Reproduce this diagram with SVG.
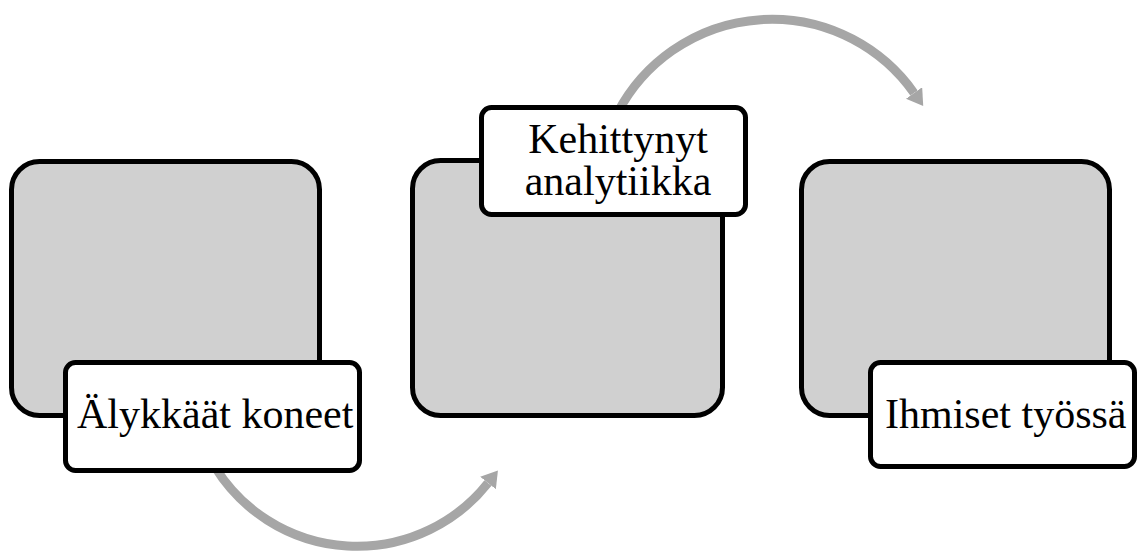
<svg xmlns="http://www.w3.org/2000/svg" width="1137" height="553" viewBox="0 0 1137 553">
  <style>
    .card { fill: #d0d0d0; stroke: #000; stroke-width: 5; }
    .label { fill: #fff; stroke: #000; stroke-width: 5; }
    .txt { font-family: "Liberation Serif", "Times New Roman", serif; font-size: 42px; fill: #000; }
    .flow { fill: none; stroke: #a6a6a6; stroke-width: 9; }
  </style>
  <defs>
    <marker id="head" viewBox="0 0 16 20" refX="0" refY="10" markerWidth="16" markerHeight="20" markerUnits="userSpaceOnUse" orient="auto">
      <path d="M0,0 L16,10 L0,20 Z" fill="#a6a6a6"/>
    </marker>
  </defs>

  <rect width="1137" height="553" fill="#fff"/>

  <!-- curved arrows between the steps -->
  <g id="connectors">
    <path class="flow" d="M215,467 A167,167 0 0 0 488,483" marker-end="url(#head)"/>
    <path class="flow" d="M618,112 A174,174 0 0 1 914,93" marker-end="url(#head)"/>
  </g>

  <g id="node1">
    <rect class="card" x="11.5" y="161.5" width="308" height="254" rx="28"/>
    <rect class="label" x="65.5" y="362.5" width="294" height="108" rx="10"/>
    <text class="txt" x="77" y="428">Älykkäät koneet</text>
  </g>

  <g id="node2">
    <rect class="card" x="412.5" y="160.5" width="310" height="255" rx="28"/>
    <rect class="label" x="481.5" y="107.5" width="264" height="107" rx="10"/>
    <text class="txt" text-anchor="middle" x="618" y="153">Kehittynyt</text>
    <text class="txt" text-anchor="middle" x="618" y="195">analytiikka</text>
  </g>

  <g id="node3">
    <rect class="card" x="801.5" y="161.5" width="308" height="254" rx="28"/>
    <rect class="label" x="870.5" y="362.5" width="264" height="104" rx="10"/>
    <text class="txt" x="885" y="428">Ihmiset työssä</text>
  </g>
</svg>
